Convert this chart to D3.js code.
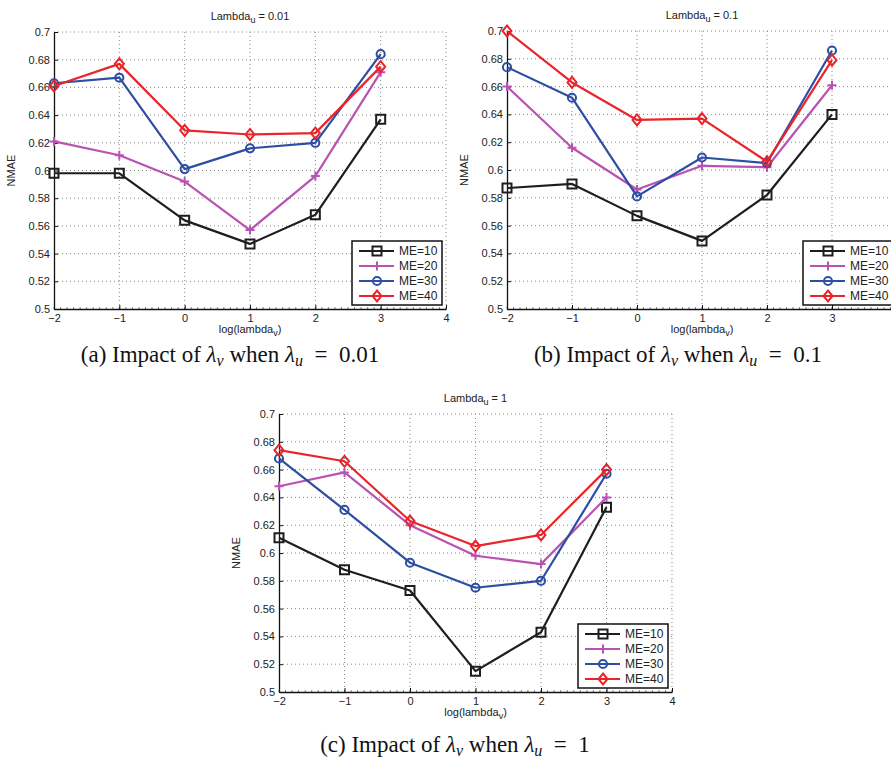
<!DOCTYPE html>
<html>
<head>
<meta charset="utf-8">
<script src="https://cdn.jsdelivr.net/npm/d3@7/dist/d3.min.js"></script>
<style>
body { margin: 0; background: #fff; }
svg text { font-family: "Liberation Sans", Arial, sans-serif; fill: #222; }
svg text.caption { font-family: "Liberation Serif", "Times New Roman", serif; font-size: 23px; fill: #111; }
</style>
</head>
<body>
<div id="chart"></div>
<script>
// x values (log lambda_v) and series
const lambdaV = [-2, -1, 0, 1, 2, 3];
const seriesNames = ["ME=10", "ME=20", "ME=30", "ME=40"];
const xTicks = [-2, -1, 0, 1, 2, 3, 4];
const yTicks = [0.5, 0.52, 0.54, 0.56, 0.58, 0.6, 0.62, 0.64, 0.66, 0.68, 0.7];
const yTickLabels = ["0.5", "0.52", "0.54", "0.56", "0.58", "0.6", "0.62", "0.64", "0.66", "0.68", "0.7"];
const lambdaU = ["0.01", "0.1", "1"];
const captionLetters = ["(a)", "(b)", "(c)"];

// NMAE per panel, one row per series (ME=10, 20, 30, 40)
const nmaeA = [
  [0.598, 0.598, 0.564, 0.547, 0.568, 0.637],
  [0.621, 0.611, 0.592, 0.557, 0.596, 0.671],
  [0.663, 0.667, 0.601, 0.616, 0.620, 0.684],
  [0.661, 0.677, 0.629, 0.626, 0.627, 0.675]
];
const nmaeB = [
  [0.587, 0.590, 0.567, 0.549, 0.582, 0.640],
  [0.660, 0.616, 0.586, 0.603, 0.602, 0.661],
  [0.674, 0.652, 0.581, 0.609, 0.605, 0.686],
  [0.700, 0.663, 0.636, 0.637, 0.606, 0.679]
];
const nmaeC = [
  [0.611, 0.588, 0.573, 0.515, 0.543, 0.633],
  [0.648, 0.658, 0.620, 0.598, 0.592, 0.640],
  [0.668, 0.631, 0.593, 0.575, 0.580, 0.657],
  [0.674, 0.666, 0.623, 0.605, 0.613, 0.660]
];
const panelData = [nmaeA, nmaeB, nmaeC];

const colors = ["#1e1e1e", "#b953b3", "#2d4ea3", "#e8252b"];
const markers = [
  "M-4.5,-4.5h9v9h-9z",
  "M-4.5,0H4.5M0,-4.5V4.5",
  d3.symbol(d3.symbolCircle, 52)(),
  "M0,-5.5L4.5,0L0,5.5L-4.5,0Z"
];

// layout of the three panels
const panels = [
  { left: 54, right: 446, top: 32, bottom: 309, capX: 230, capY: 362 },
  { left: 507, right: 897, top: 31, bottom: 309, capX: 678, capY: 362 },
  { left: 279, right: 672, top: 414, bottom: 692, capX: 455, capY: 752 }
];

const svg = d3.select("#chart").append("svg")
  .attr("width", 891)
  .attr("height", 760);

panels.forEach(function(p, k) {
  const data = panelData[k];
  const x = d3.scaleLinear().domain([-2, 4]).range([p.left, p.right]);
  const y = d3.scaleLinear().domain([0.5, 0.7]).range([p.bottom, p.top]);
  const g = svg.append("g");

  // dotted grid
  g.selectAll(".vgrid").data(xTicks.slice(1)).enter().append("line")
    .attr("x1", d => x(d)).attr("x2", d => x(d))
    .attr("y1", p.top).attr("y2", p.bottom)
    .attr("stroke", "#888").attr("stroke-width", 1).attr("stroke-dasharray", "1,3");
  g.selectAll(".hgrid").data(yTicks.slice(1)).enter().append("line")
    .attr("x1", p.left).attr("x2", p.right)
    .attr("y1", d => y(d)).attr("y2", d => y(d))
    .attr("stroke", "#888").attr("stroke-width", 1).attr("stroke-dasharray", "1,3");

  // minor ticks on bottom axis
  const minor = d3.range(-20, 41).map(d => d / 10);
  g.selectAll(".minor").data(minor).enter().append("line")
    .attr("x1", d => x(d)).attr("x2", d => x(d))
    .attr("y1", p.bottom).attr("y2", p.bottom - 2)
    .attr("stroke", "#333").attr("stroke-width", 0.6);

  const xAxis = d3.axisBottom(x).tickValues(xTicks).tickSizeInner(-4).tickSizeOuter(0)
    .tickPadding(6).tickFormat(d => d < 0 ? "\u2212" + Math.abs(d) : d);
  const gx = g.append("g").attr("transform", "translate(0," + p.bottom + ")").call(xAxis);
  const yAxis = d3.axisLeft(y).tickValues(yTicks).tickSizeInner(-4).tickSizeOuter(0)
    .tickPadding(4).tickFormat((d, i) => yTickLabels[i]);
  const gy = g.append("g").attr("transform", "translate(" + p.left + ",0)").call(yAxis);
  [gx, gy].forEach(a => {
    a.select(".domain").attr("stroke", "#111").attr("stroke-width", 1.3);
    a.selectAll(".tick line").attr("stroke", "#111");
    a.selectAll("text").attr("font-size", 11).attr("fill", "#222")
      .attr("font-family", "'Liberation Sans', Arial, sans-serif");
  });
  gx.selectAll("text").attr("dy", "0.6em");

  // series lines and markers
  const line = d3.line().x((d, i) => x(lambdaV[i])).y(d => y(d));
  data.forEach(function(vals, s) {
    g.append("path").attr("d", line(vals))
      .attr("fill", "none").attr("stroke", colors[s]).attr("stroke-width", 2.2)
      .attr("stroke-linejoin", "round");
    g.selectAll(".m" + s).data(vals).enter().append("path")
      .attr("transform", (d, i) => "translate(" + x(lambdaV[i]) + "," + y(d) + ")")
      .attr("d", markers[s])
      .attr("fill", "none").attr("stroke", colors[s]).attr("stroke-width", 2);
  });

  // title
  const title = g.append("text").attr("x", (p.left + p.right) / 2).attr("y", p.top - 12)
    .attr("text-anchor", "middle").attr("font-size", 11);
  title.append("tspan").text("Lambda");
  title.append("tspan").attr("font-size", 9).attr("dy", 3).text("u");
  title.append("tspan").attr("dy", -3).text(" = " + lambdaU[k]);

  // axis labels
  g.append("text")
    .attr("transform", "translate(" + (p.left - 39) + "," + ((p.top + p.bottom) / 2) + ")rotate(-90)")
    .attr("text-anchor", "middle").attr("font-size", 11).text("NMAE");
  const xl = g.append("text").attr("x", (p.left + p.right) / 2).attr("y", p.bottom + 24)
    .attr("text-anchor", "middle").attr("font-size", 11);
  xl.append("tspan").text("log(lambda");
  xl.append("tspan").attr("font-size", 9).attr("dy", 3).text("v");
  xl.append("tspan").attr("dy", -3).text(")");

  // legend
  const lw = 90, lh = 64;
  const lx = p.right - 4 - lw, ly = p.bottom - 4 - lh;
  g.append("rect").attr("x", lx).attr("y", ly).attr("width", lw).attr("height", lh)
    .attr("fill", "#fff").attr("stroke", "#111").attr("stroke-width", 1.5);
  const leg = g.selectAll(".legend").data(seriesNames).enter().append("g")
    .attr("transform", (d, i) => "translate(" + lx + "," + (ly + 10 + i * 15) + ")");
  leg.append("line").attr("x1", 7).attr("x2", 42).attr("y1", 0).attr("y2", 0)
    .attr("stroke", (d, i) => colors[i]).attr("stroke-width", 2.2);
  leg.append("path").attr("transform", "translate(25,0)")
    .attr("d", (d, i) => markers[i])
    .attr("fill", "none").attr("stroke", (d, i) => colors[i]).attr("stroke-width", 2);
  leg.append("text").attr("x", 47).attr("y", 0).attr("dy", "0.35em")
    .attr("font-size", 12).text(d => d);

  // caption
  const cap = svg.append("text").attr("class", "caption")
    .attr("x", p.capX).attr("y", p.capY).attr("text-anchor", "middle");
  cap.append("tspan").text(captionLetters[k] + " Impact of ");
  cap.append("tspan").attr("font-style", "italic").text("\u03bb");
  cap.append("tspan").attr("font-style", "italic").attr("font-size", 16).attr("dy", 4).text("v");
  cap.append("tspan").attr("dy", -4).text(" when ");
  cap.append("tspan").attr("font-style", "italic").text("\u03bb");
  cap.append("tspan").attr("font-style", "italic").attr("font-size", 16).attr("dy", 4).text("u");
  cap.append("tspan").attr("dy", -4).text("\u2002=\u2002" + lambdaU[k]);
});
</script>
</body>
</html>
